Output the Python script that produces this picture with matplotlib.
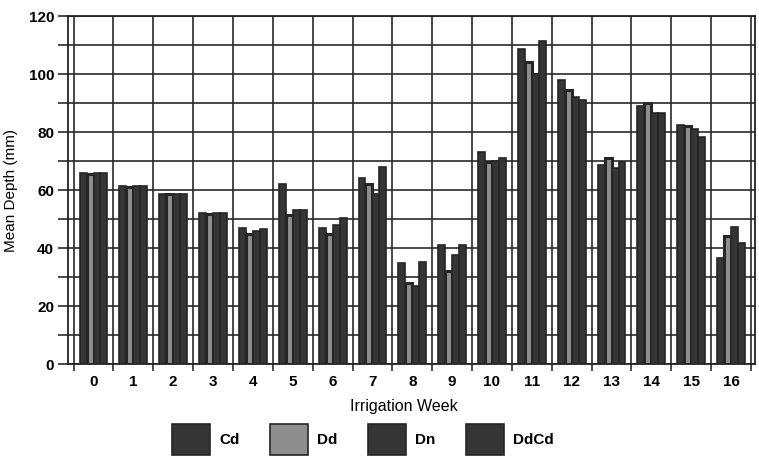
import matplotlib
matplotlib.use("Agg")
import matplotlib.pyplot as plt
from matplotlib.patches import Rectangle
from matplotlib.ticker import MultipleLocator, FixedLocator
import numpy as np

plt.rcParams['font.family'] = ['Liberation Sans', 'DejaVu Sans']
plt.rcParams['font.weight'] = 'bold'

weeks = list(range(17))
series_names = ["Cd", "Dd", "Dn", "DdCd"]
cd   = [65.7, 61.3, 58.7, 52.0, 47.0, 62.0, 47.0, 64.0, 35.0, 41.0, 73.0, 108.5, 98.0, 68.5, 89.0, 82.5, 36.7]
dd   = [65.5, 61.2, 58.5, 51.8, 45.0, 51.3, 44.7, 62.0, 28.0, 32.0, 69.5, 104.0, 94.5, 71.0, 90.0, 82.0, 44.0]
dn   = [65.7, 61.3, 58.7, 52.0, 46.0, 53.0, 48.0, 58.5, 27.0, 37.7, 70.0, 100.0, 92.0, 67.5, 86.5, 81.0, 47.2]
ddcd = [65.7, 61.3, 58.7, 52.0, 46.5, 53.0, 50.4, 68.0, 35.2, 41.0, 71.0, 111.5, 91.0, 69.5, 86.5, 78.3, 41.6]
series = [cd, dd, dn, ddcd]

dark = "#353535"
gray = "#8e8e8e"
edge = "#262626"
colors = [dark, gray, dark, dark]
edge_widths = [1.2, 2.2, 1.2, 1.2]

fig = plt.figure(figsize=(7.59, 4.60), dpi=100)
ax = fig.add_axes([68/759, 1-365/460, (755-68)/759, (365-17)/460])

x = np.array(weeks, dtype=float)
w = 0.175
for k, (vals, c, lw) in enumerate(zip(series, colors, edge_widths)):
    ax.bar(x + (k - 1.5) * w, vals, width=w, color=c, edgecolor=edge,
           linewidth=lw, zorder=3)

ax.set_xlim(-0.64, 16.6)
ax.set_ylim(0, 120)

ax.yaxis.set_major_locator(MultipleLocator(20))
ax.yaxis.set_minor_locator(MultipleLocator(10))
ax.set_xticks(x)
ax.set_xticklabels([str(v) for v in weeks])
ax.xaxis.set_minor_locator(FixedLocator(np.arange(-0.5, 16.6, 1.0)))

ax.grid(True, which='both', axis='y', color='#2a2a2a', linewidth=1.2, zorder=0)
ax.grid(True, which='minor', axis='x', color='#2a2a2a', linewidth=1.2, zorder=0)
ax.set_axisbelow(True)

ax.tick_params(axis='y', which='both', direction='out', length=7, width=1.2,
               color='#2a2a2a', labelsize=11, pad=3)
ax.tick_params(axis='x', which='major', length=0, labelsize=11, pad=7)
ax.tick_params(axis='x', which='minor', direction='out', length=5, width=1.2,
               color='#2a2a2a')

for s in ax.spines.values():
    s.set_color('#222222')
    s.set_linewidth(1.3)

ax.set_ylabel("Mean Depth (mm)", fontsize=11, labelpad=8)
ax.set_xlabel("Irrigation Week", fontsize=11.5)
ax.xaxis.set_label_coords(0.489, -0.097)

# legend drawn at bottom
box_x = [172, 270, 368, 466]
box_w, box_h = 38, 31
box_yc = 440
for name, c, bx in zip(series_names, colors, box_x):
    fig.patches.append(Rectangle((bx/759, 1-(box_yc+box_h/2)/460), box_w/759, box_h/460,
                                 transform=fig.transFigure, facecolor=c,
                                 edgecolor=edge, linewidth=1.2))
    fig.text((bx+box_w+9)/759, 1-box_yc/460, name, fontsize=11, va='center', ha='left')

fig.savefig("out.png", dpi=100, facecolor='white')
